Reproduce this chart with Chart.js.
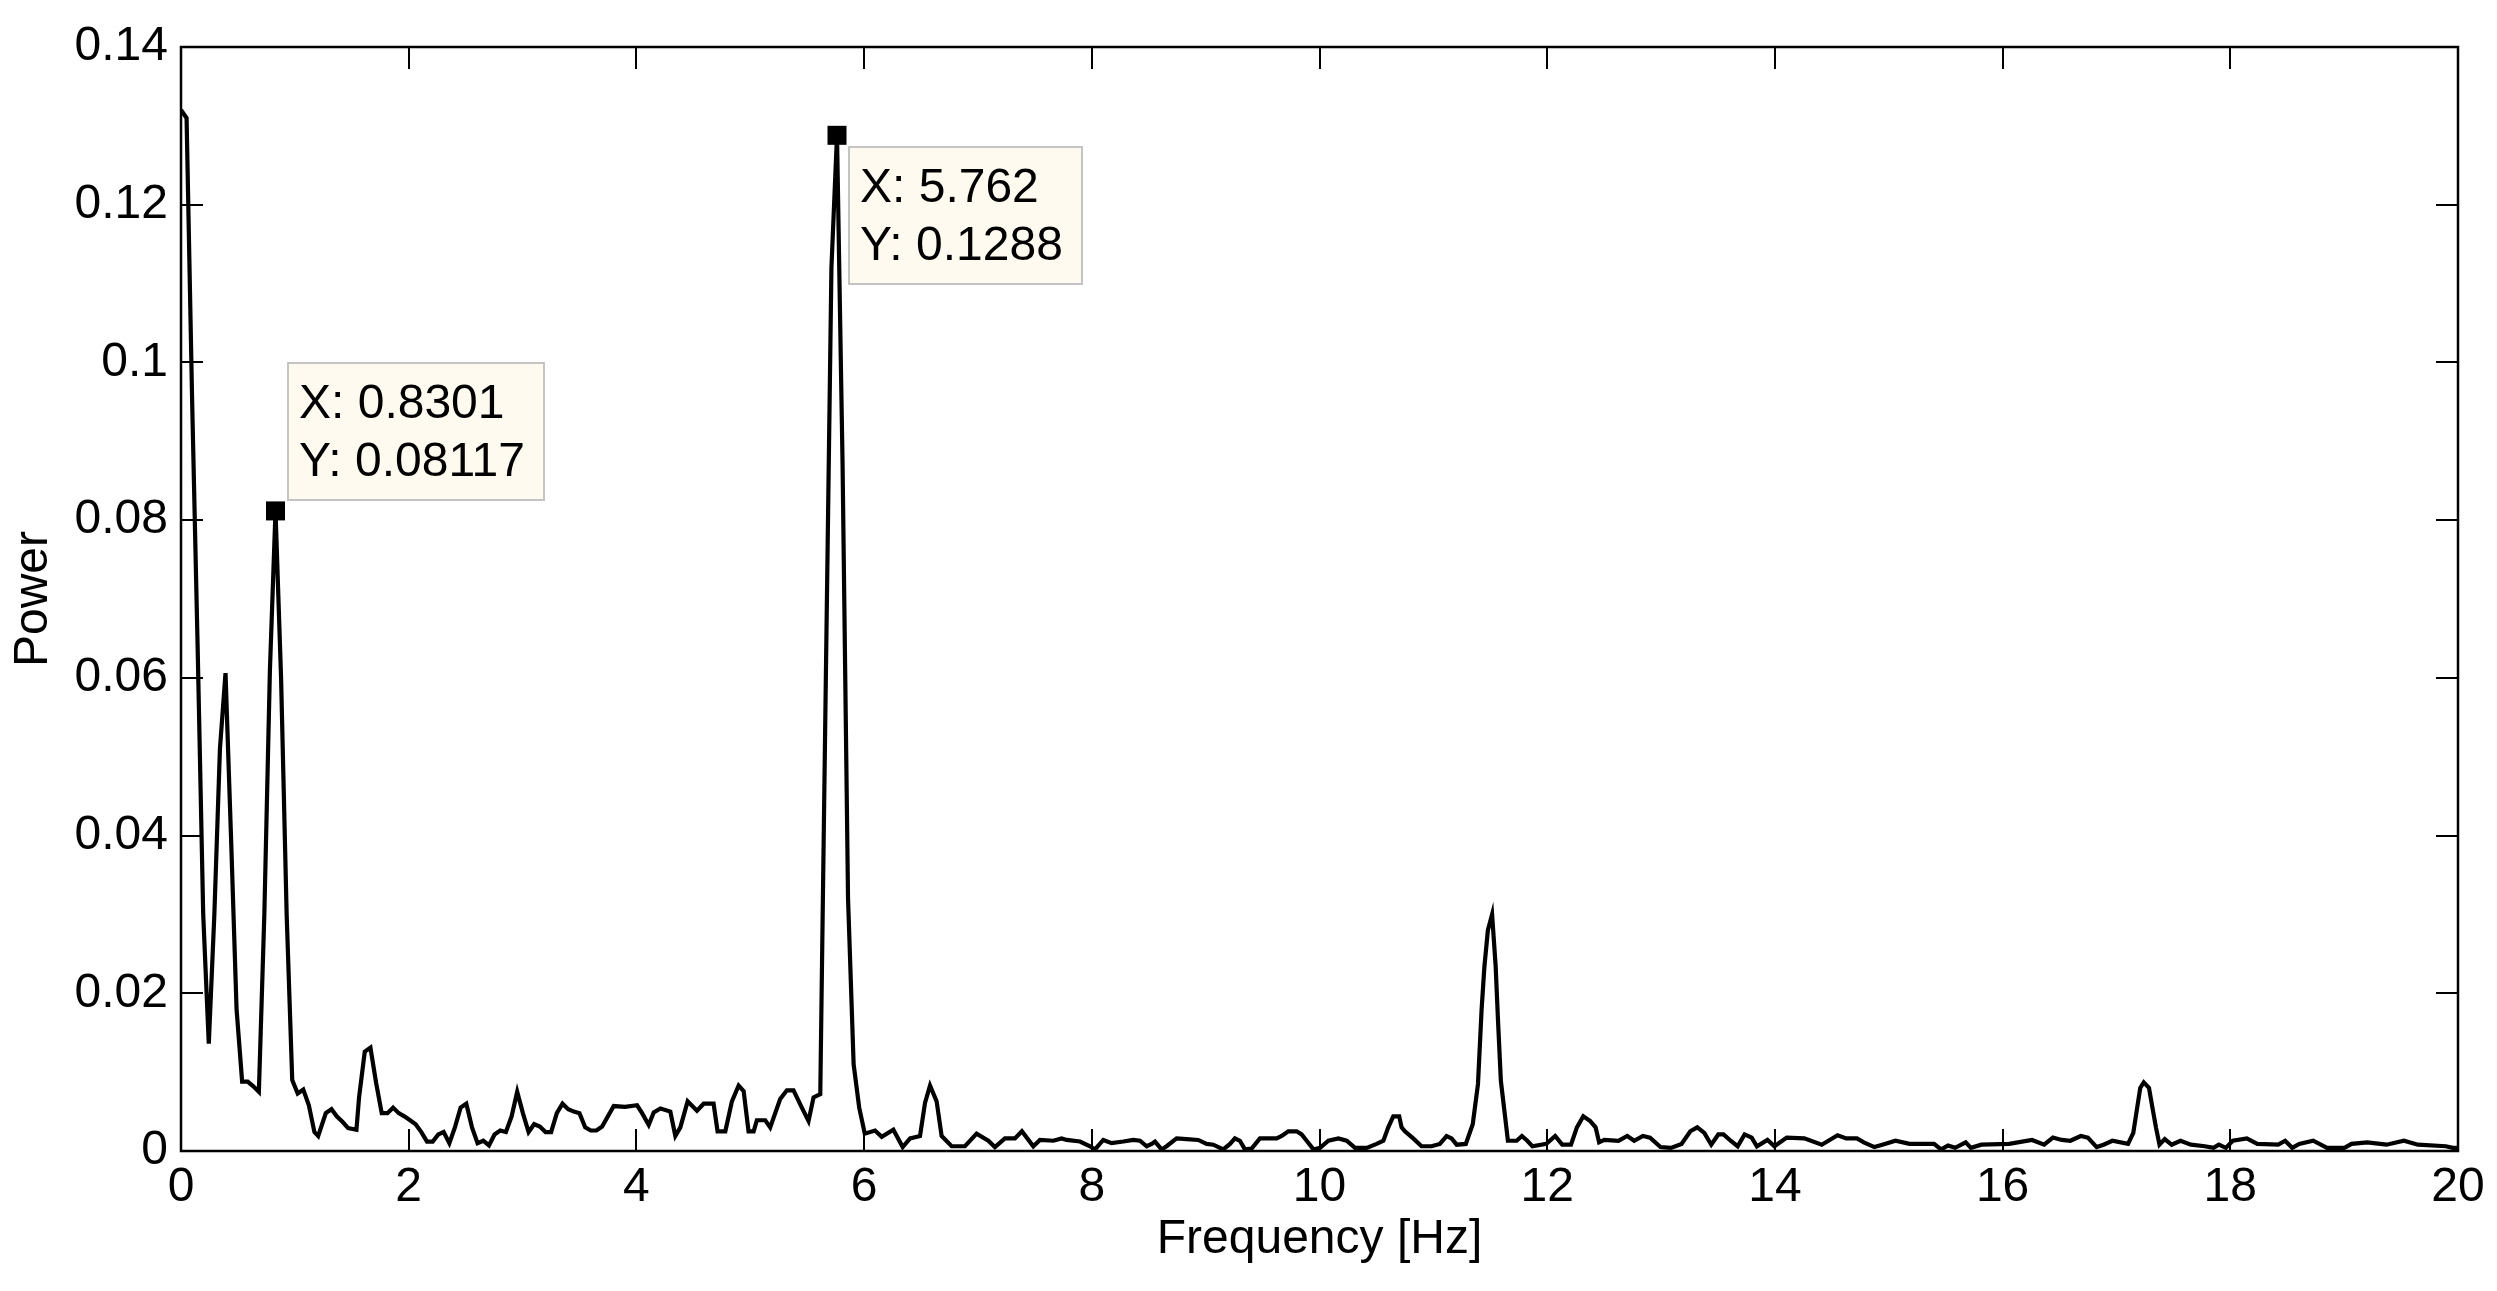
<!DOCTYPE html>
<html>
<head>
<meta charset="utf-8">
<title>Power spectrum</title>
<script src="https://cdn.jsdelivr.net/npm/chart.js@4.4.1/dist/chart.umd.min.js"></script>
<style>
  html, body { margin: 0; padding: 0; background: #fff; }
  #wrap { width: 2497px; height: 1291px; }
</style>
</head>
<body>
<div id="wrap"><canvas id="myChart" width="2497" height="1291"></canvas></div>
<script>
// frequency bins (Hz) and the power read at each of them
var freq = [
  0, 0.049, 0.098, 0.146, 0.195, 0.244, 0.293, 0.342, 0.391, 0.439, 0.488, 0.537, 0.586, 0.635, 0.684, 0.732, 0.781, 0.8301, 0.879, 0.928, 0.977,
  1.025, 1.074, 1.123, 1.172, 1.205, 1.272, 1.322, 1.368, 1.418, 1.468, 1.541, 1.564, 1.614, 1.664, 1.713, 1.763, 1.813, 1.863, 1.912, 1.962,
  2.012, 2.061, 2.111, 2.161, 2.211, 2.260, 2.307, 2.357, 2.406, 2.456, 2.506, 2.556, 2.605, 2.655, 2.705, 2.754, 2.804, 2.854, 2.904, 2.953,
  3.003, 3.053, 3.102, 3.152, 3.202, 3.251, 3.301, 3.351, 3.401, 3.450, 3.500, 3.550, 3.599, 3.649, 3.699, 3.801, 3.900,
  4.006, 4.050, 4.108, 4.152, 4.211, 4.298, 4.342, 4.386, 4.450, 4.532, 4.591, 4.678, 4.713, 4.781, 4.839, 4.898, 4.942, 4.985,
  5.030, 5.058, 5.132, 5.175, 5.263, 5.322, 5.380, 5.453, 5.512, 5.556, 5.615, 5.664, 5.713, 5.762, 5.811, 5.859, 5.908, 5.957,
  6.006, 6.096, 6.155, 6.257, 6.339, 6.404, 6.491, 6.535, 6.579, 6.637, 6.681, 6.769, 6.886, 6.988,
  7.091, 7.149, 7.237, 7.325, 7.386, 7.486, 7.545, 7.662, 7.735, 7.779, 7.896, 7.985,
  8.028, 8.101, 8.174, 8.277, 8.365, 8.423, 8.482, 8.526, 8.555, 8.613, 8.657, 8.745, 8.833, 8.935,
  9.009, 9.067, 9.155, 9.214, 9.257, 9.301, 9.345, 9.404, 9.477, 9.550, 9.624, 9.668, 9.726, 9.799, 9.843, 9.887, 9.947,
  10.005, 10.078, 10.166, 10.239, 10.312, 10.415, 10.502, 10.561, 10.604, 10.648, 10.700, 10.721, 10.750, 10.823, 10.896, 10.984,
  11.057, 11.116, 11.160, 11.205, 11.285, 11.346, 11.392, 11.424, 11.448, 11.479, 11.516, 11.547, 11.568, 11.593, 11.624, 11.655, 11.732, 11.778, 11.825, 11.870, 11.993,
  12.070, 12.132, 12.209, 12.261, 12.317, 12.378, 12.425, 12.456, 12.502, 12.626, 12.703, 12.764, 12.841, 12.903, 12.995,
  13.087, 13.180, 13.257, 13.318, 13.380, 13.441, 13.503, 13.549, 13.611, 13.673, 13.734, 13.796, 13.842, 13.935, 13.996,
  14.104, 14.258, 14.412, 14.550, 14.627, 14.720, 14.781, 14.874, 14.966,
  15.059, 15.182, 15.244, 15.398, 15.460, 15.521, 15.583, 15.676, 15.722, 15.814,
  16.058, 16.258, 16.365, 16.442, 16.519, 16.595, 16.687, 16.749, 16.826, 16.887, 16.964,
  17.102, 17.148, 17.178, 17.209, 17.240, 17.286, 17.316, 17.347, 17.378, 17.424, 17.485, 17.562, 17.654, 17.777, 17.853, 17.899, 17.961,
  18.022, 18.145, 18.237, 18.421, 18.482, 18.544, 18.605, 18.728, 18.850,
  19.003, 19.065, 19.203, 19.372, 19.525, 19.648, 19.893, 19.954, 20.000
];
var power = [
  0.132, 0.131, 0.095, 0.064, 0.030, 0.0136, 0.030, 0.051, 0.0606, 0.040, 0.018, 0.0088, 0.0088, 0.0082, 0.0075, 0.030, 0.061, 0.08117, 0.060, 0.030, 0.009,
  0.0073, 0.0078, 0.0058, 0.0024, 0.0019, 0.0048, 0.0053, 0.0044, 0.0037, 0.0029, 0.0027, 0.0068, 0.0126, 0.0131, 0.0087, 0.0048, 0.0048, 0.0055, 0.0048, 0.0044,
  0.0039, 0.0034, 0.0024, 0.0012, 0.0012, 0.0021, 0.0024, 0.0010, 0.0030, 0.0055, 0.0060, 0.0030, 0.0010, 0.0013, 0.0007, 0.0021, 0.0026, 0.0024, 0.0044, 0.0075,
  0.0048, 0.0024, 0.0034, 0.0031, 0.0024, 0.0024, 0.0048, 0.0060, 0.0053, 0.0050, 0.0048, 0.0030, 0.0026, 0.0026, 0.0031, 0.0057, 0.0056,
  0.0058, 0.0048, 0.0033, 0.0049, 0.0054, 0.0050, 0.0019, 0.0030, 0.0063, 0.0051, 0.0060, 0.0060, 0.0025, 0.0025, 0.0063, 0.0083, 0.0076, 0.0025,
  0.0025, 0.0039, 0.0039, 0.0030, 0.0066, 0.0077, 0.0077, 0.0055, 0.0038, 0.0068, 0.0072, 0.060, 0.112, 0.1288, 0.087, 0.032, 0.011, 0.0055,
  0.0022, 0.0026, 0.0018, 0.0027, 0.0005, 0.0016, 0.0019, 0.0061, 0.0083, 0.0063, 0.0019, 0.0006, 0.0006, 0.0022,
  0.0013, 0.0005, 0.0016, 0.0016, 0.0025, 0.0006, 0.0014, 0.0013, 0.0016, 0.0014, 0.0012, 0.0006,
  0.0002, 0.0014, 0.0010, 0.0012, 0.0014, 0.0013, 0.0006, 0.0009, 0.0012, 0.0002, 0.0006, 0.0016, 0.0015, 0.0014,
  0.0009, 0.0008, 0.0002, 0.0009, 0.0016, 0.0013, 0.0002, 0.0003, 0.0016, 0.0016, 0.0016, 0.0019, 0.0025, 0.0025, 0.0021, 0.0013, 0.0002,
  0.0004, 0.0013, 0.0016, 0.0013, 0.0004, 0.0004, 0.0009, 0.0013, 0.0030, 0.0044, 0.0044, 0.0030, 0.0025, 0.0016, 0.0006, 0.0006,
  0.0009, 0.0019, 0.0016, 0.0008, 0.0009, 0.0034, 0.0085, 0.018, 0.0233, 0.028, 0.030, 0.0235, 0.0165, 0.0089, 0.0051, 0.0013, 0.0013, 0.0019, 0.0013, 0.0006, 0.0009,
  0.0019, 0.0008, 0.0008, 0.0030, 0.0044, 0.0038, 0.0030, 0.0011, 0.0014, 0.0013, 0.0019, 0.0013, 0.0019, 0.0017, 0.0005,
  0.0004, 0.0009, 0.0025, 0.0030, 0.0023, 0.0008, 0.0021, 0.0021, 0.0013, 0.0006, 0.0021, 0.0017, 0.0006, 0.0014, 0.0006,
  0.0017, 0.0016, 0.0008, 0.0020, 0.0016, 0.0016, 0.0011, 0.0005, 0.0009,
  0.0013, 0.0009, 0.0009, 0.0009, 0.0002, 0.0007, 0.0004, 0.0011, 0.0004, 0.0008,
  0.0009, 0.0014, 0.0008, 0.0017, 0.0014, 0.0013, 0.0019, 0.0017, 0.0005, 0.0008, 0.0013,
  0.0009, 0.0023, 0.0051, 0.0080, 0.0087, 0.0080, 0.0055, 0.0030, 0.0008, 0.0015, 0.0008, 0.0013, 0.0008, 0.0006, 0.0004, 0.0008, 0.0004,
  0.0013, 0.0016, 0.0009, 0.0008, 0.0013, 0.0004, 0.0009, 0.0013, 0.0004,
  0.0004, 0.0009, 0.0011, 0.0008, 0.0013, 0.0008, 0.0006, 0.0004, 0.0004
];

// data tips
var tipFreq = [0.8301, 5.762];
var tipPower = [0.08117, 0.1288];
var tipLines = [["X: 0.8301", "Y: 0.08117"], ["X: 5.762", "Y: 0.1288"]];
var tipAbove = [true, false];

var FONT = "'Liberation Sans', Arial, sans-serif";

var points = freq.map(function (f, i) { return { x: f, y: power[i] }; });

// MATLAB style box with inward ticks, plus data tips
var framePlugin = {
  id: 'frame',
  afterDraw: function (chart) {
    var ctx = chart.ctx, a = chart.chartArea;
    var xs = chart.scales.x, ys = chart.scales.y;
    ctx.save();
    ctx.strokeStyle = '#000';
    ctx.lineWidth = 2;
    ctx.beginPath();
    xs.ticks.forEach(function (t) {
      var px = Math.round(xs.getPixelForValue(t.value));
      ctx.moveTo(px, a.bottom); ctx.lineTo(px, a.bottom - 22);
      ctx.moveTo(px, a.top); ctx.lineTo(px, a.top + 22);
    });
    ys.ticks.forEach(function (t) {
      var py = Math.round(ys.getPixelForValue(t.value));
      ctx.moveTo(a.left, py); ctx.lineTo(a.left + 22, py);
      ctx.moveTo(a.right, py); ctx.lineTo(a.right - 22, py);
    });
    ctx.stroke();
    ctx.lineWidth = 2.5;
    ctx.strokeRect(a.left, a.top, a.right - a.left, a.bottom - a.top);

    // data tips
    ctx.font = '48px ' + FONT;
    for (var i = 0; i < tipFreq.length; i++) {
      var mx = xs.getPixelForValue(tipFreq[i]);
      var my = ys.getPixelForValue(tipPower[i]);
      ctx.fillStyle = '#000';
      ctx.fillRect(mx - 9.5, my - 9.5, 19, 19);
      var w = 0;
      tipLines[i].forEach(function (s) { w = Math.max(w, ctx.measureText(s).width); });
      var bw = Math.round(w + 30), bh = 137;
      var bx = Math.round(mx + 12);
      var by = tipAbove[i] ? Math.round(my - 11 - bh) : Math.round(my + 12);
      ctx.fillStyle = '#fffaf0';
      ctx.fillRect(bx, by, bw, bh);
      ctx.strokeStyle = '#c4c4c4';
      ctx.lineWidth = 2;
      ctx.strokeRect(bx, by, bw, bh);
      ctx.fillStyle = '#000';
      ctx.textAlign = 'left';
      ctx.textBaseline = 'alphabetic';
      ctx.fillText(tipLines[i][0], bx + 11, by + 55);
      ctx.fillText(tipLines[i][1], bx + 11, by + 113);
    }
    ctx.restore();
  }
};

var myChart = new Chart(document.getElementById('myChart'), {
  type: 'line',
  data: {
    datasets: [{
      label: 'Power',
      data: points,
      borderColor: '#000',
      borderWidth: 4.2,
      borderJoinStyle: 'miter',
      pointRadius: 0,
      tension: 0,
      fill: false
    }]
  },
  options: {
    responsive: false,
    animation: false,
    layout: { padding: { top: 47, right: 39, bottom: 0, left: 0 } },
    plugins: {
      legend: { display: false },
      tooltip: { enabled: false }
    },
    scales: {
      x: {
        type: 'linear',
        min: 0,
        max: 20,
        grid: { display: false, drawTicks: false },
        border: { display: false },
        ticks: {
          stepSize: 2,
          padding: 8,
          color: '#000',
          font: { family: FONT, size: 48 },
          maxRotation: 0
        },
        title: {
          display: true,
          text: 'Frequency [Hz]',
          color: '#000',
          font: { family: FONT, size: 48 },
          padding: { top: 0, bottom: 22 }
        },
        afterFit: function (s) { s.height = 140; }
      },
      y: {
        min: 0,
        max: 0.14,
        grid: { display: false, drawTicks: false },
        border: { display: false },
        ticks: {
          stepSize: 0.02,
          padding: 13,
          color: '#000',
          font: { family: FONT, size: 48 },
          callback: function (v) { return String(Number(v.toFixed(2))); }
        },
        title: {
          display: true,
          text: 'Power',
          color: '#000',
          font: { family: FONT, size: 48 },
          padding: { top: 5, bottom: 0 }
        },
        afterFit: function (s) { s.width = 181; }
      }
    }
  },
  plugins: [framePlugin]
});
</script>
</body>
</html>
